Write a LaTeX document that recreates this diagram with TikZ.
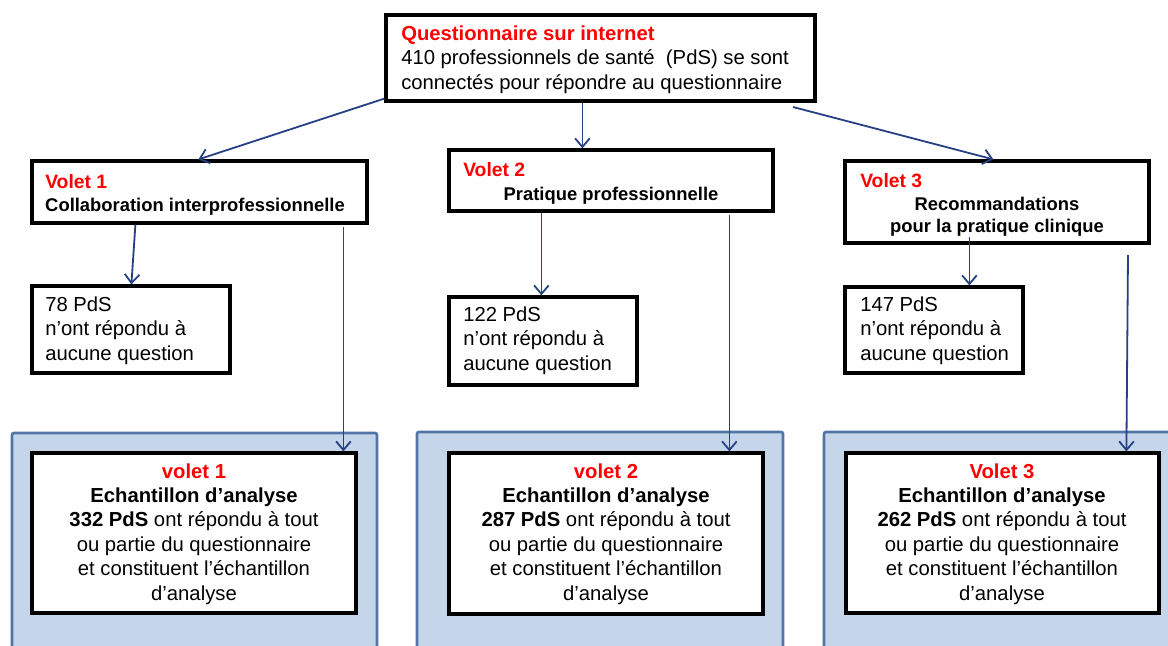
\documentclass[tikz,border=0pt]{standalone}
\usepackage{fontspec}
\setmainfont{Liberation Sans}
\usetikzlibrary{arrows.meta,fit,calc}
\definecolor{redt}{RGB}{255,0,0}
\definecolor{panelfill}{RGB}{198,214,234}
\definecolor{paneledge}{RGB}{82,116,166}
\definecolor{arrowc}{RGB}{38,64,132}
\begin{document}
\begin{tikzpicture}[x=0.75pt,y=-0.75pt,
  box/.style={draw=black,line width=2.4pt,fill=white,inner sep=0pt},
  panel/.style={draw=paneledge,fill=panelfill,line width=2pt,inner sep=0pt,rounded corners=1.5pt},
  arr/.style={draw=arrowc,line width=1.35pt,-{Straight Barb[length=6.5pt,width=11pt,line width=1.35pt]}},
  txt/.style={inner sep=0pt,font=\fontsize{15.2}{18.3}\selectfont},
  ttl/.style={inner sep=0pt,text=redt,font=\fontsize{14.5}{17}\selectfont\bfseries},
  sub/.style={inner sep=0pt,align=center,font=\fontsize{13.8}{16}\selectfont\bfseries}
]
\useasboundingbox (0,0) rectangle (1168,646);
\clip (0,0) rectangle (1168,646);
% panels
\node[panel, fit={(12,433) (377,670)}] (p1) {};
\node[panel, fit={(417,432) (783,670)}] (p2) {};
\node[panel, fit={(824,432) (1190,670)}] (p3) {};
% boxes
\node[box, fit={(386,15) (815,101)}] (top) {};
\node[box, fit={(32,161) (367,223)}] (v1) {};
\node[box, fit={(449,150) (773,211)}] (v2) {};
\node[box, fit={(845,161) (1149,243)}] (v3) {};
\node[box, fit={(32,286) (230,373)}] (b78) {};
\node[box, fit={(449,297) (637,385)}] (b122) {};
\node[box, fit={(845,287) (1023,373)}] (b147) {};
\node[box, fit={(32,453) (356,613)}] (e1) {};
\node[box, fit={(449,453) (763,614)}] (e2) {};
\node[box, fit={(846,453) (1159,613)}] (e3) {};
% texts (base anchor = baseline of the last line)
\node[txt,anchor=base west,align=left] (tq) at (401,89) {\textcolor{redt}{\textbf{Questionnaire sur internet}}\\410 professionnels de santé~~(PdS) se sont\\connectés pour répondre au questionnaire};
\node[ttl,anchor=base west] (t1) at (45,188) {Volet 1};
\node[sub,anchor=base] (st1) at (195,211) {Collaboration interprofessionnelle};
\node[ttl,anchor=base west] (t2) at (463,176) {Volet 2};
\node[sub,anchor=base] (st2) at (611,200) {Pratique professionnelle};
\node[ttl,anchor=base west] (t3) at (860,187) {Volet 3};
\node[sub,anchor=base] (st3) at (997,232) {Recommandations\\pour la pratique clinique};
\node[txt,anchor=base west,align=left] (n78) at (45,360) {78 PdS\\n’ont répondu à\\aucune question};
\node[txt,anchor=base west,align=left] (n122) at (463,370) {122 PdS\\n’ont répondu à\\aucune question};
\node[txt,anchor=base west,align=left] (n147) at (860,360) {147 PdS\\n’ont répondu à\\aucune question};
\node[txt,anchor=base,align=center] (x1) at (194,600) {\textcolor{redt}{\textbf{volet 1}}\\\textbf{Echantillon d’analyse}\\\textbf{332 PdS} ont répondu à tout\\ou partie du questionnaire\\et constituent l’échantillon\\d’analyse};
\node[txt,anchor=base,align=center] (x2) at (606,600) {\textcolor{redt}{\textbf{volet 2}}\\\textbf{Echantillon d’analyse}\\\textbf{287 PdS} ont répondu à tout\\ou partie du questionnaire\\et constituent l’échantillon\\d’analyse};
\node[txt,anchor=base,align=center] (x3) at (1002,600) {\textcolor{redt}{\textbf{Volet 3}}\\\textbf{Echantillon d’analyse}\\\textbf{262 PdS} ont répondu à tout\\ou partie du questionnaire\\et constituent l’échantillon\\d’analyse};
% connectors
\coordinate (s3) at (793,107);
\coordinate (s6) at (1128,255);
\draw[arr] ($(top.south west)+(0,-4)$) -- ($(v1.north west)+(168,0)$);
\draw[arr] ($(top.south west)+(198,0)$) -- ($(v2.north west)+(135,0)$);
\draw[arr] (s3) -- ($(v3.north west)+(150,0)$);
\draw[arr] ($(v1.south west)+(105,0)$) -- ($(b78.north west)+(101,0)$);
\draw[arr] ($(v1.south west)+(313,2)$) -- ($(e1.north west)+(313,0)$);
\draw[arr] ($(v2.south west)+(94,0)$) -- ($(b122.north west)+(94,0)$);
\draw[arr] ($(v2.south west)+(282,2)$) -- ($(e2.north west)+(282,0)$);
\draw[arr] ($(v3.south west)+(126,-8)$) -- ($(b147.north west)+(126,0)$);
\draw[arr] (s6) -- ($(e3.north west)+(282,0)$);
\end{tikzpicture}
\end{document}
